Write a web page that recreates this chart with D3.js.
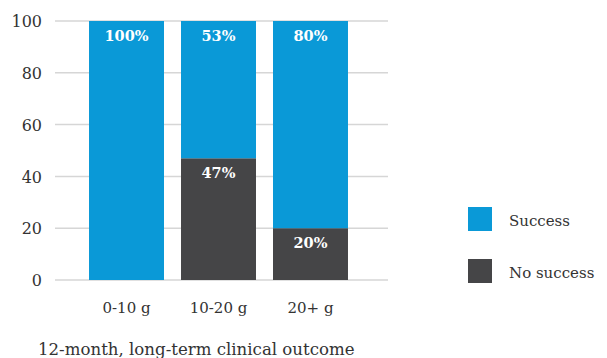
<!DOCTYPE html>
<html>
<head>
<meta charset="utf-8">
<script src="https://cdn.jsdelivr.net/npm/d3@7"></script>
<style>
  html, body { margin: 0; padding: 0; background: #fff; }
  svg { display: block; }
  text { font-family: "DejaVu Serif", "Liberation Serif", serif; }
</style>
</head>
<body>
<svg id="chart" width="607" height="358"></svg>
<script>
// Outcome by dose group: share of patients with success vs. no success (%)
const categories = ["0-10 g", "10-20 g", "20+ g"];
const success = [100, 53, 80];
const noSuccess = [0, 47, 20];
const seriesNames = ["Success", "No success"];
const yTicks = [0, 20, 40, 60, 80, 100];
const caption = "12-month, long-term clinical outcome";

const colors = { "Success": "#0a99d7", "No success": "#454547" };

const svg = d3.select("#chart");

const x = d3.scaleBand().domain(categories).range([72, 365]).paddingInner(0.185).paddingOuter(0.185);
const y = d3.scaleLinear().domain([0, 100]).range([280, 21]);

// Gridlines and y tick labels
const grid = svg.append("g");
grid.selectAll("line").data(yTicks).join("line")
  .attr("x1", 55).attr("x2", 388)
  .attr("y1", d => y(d)).attr("y2", d => y(d))
  .attr("stroke", "#d6d6d6").attr("stroke-width", 1.5);

const yAxis = d3.axisLeft(y).tickValues(yTicks).tickSize(0).tickPadding(0);
const yg = svg.append("g").attr("transform", "translate(42,0)").call(yAxis);
yg.select(".domain").remove();
yg.selectAll("text").attr("font-size", 16).attr("fill", "#333").attr("dy", "0.35em")
  .style("font-family", "'DejaVu Serif', serif");

// Stacked bars
const rows = categories.map((c, i) => ({ cat: c, "No success": noSuccess[i], "Success": success[i] }));
const stack = d3.stack().keys(["No success", "Success"])(rows);

const layers = svg.append("g").selectAll("g").data(stack).join("g")
  .attr("fill", d => colors[d.key]);
layers.selectAll("rect").data(d => d.filter(s => s[1] - s[0] > 0)).join("rect")
  .attr("x", d => x(d.data.cat))
  .attr("width", x.bandwidth())
  .attr("y", d => y(d[1]))
  .attr("height", d => y(d[0]) - y(d[1]));

// Value labels at the top of each segment
const labels = svg.append("g");
stack.forEach(layer => {
  layer.forEach(s => {
    const v = s[1] - s[0];
    if (v <= 0) return;
    labels.append("text")
      .attr("x", x(s.data.cat) + x.bandwidth() / 2)
      .attr("y", y(s[1]) + 20)
      .attr("text-anchor", "middle")
      .attr("font-size", 14.5)
      .attr("font-weight", "bold")
      .attr("fill", "#fff")
      .text(v + "%");
  });
});

// Category axis
const xAxis = d3.axisBottom(x).tickSize(0).tickPadding(0);
const xg = svg.append("g").attr("transform", "translate(0,313)").call(xAxis);
xg.select(".domain").remove();
xg.selectAll("text").attr("font-size", 15).attr("fill", "#333").attr("dy", 0)
  .style("font-family", "'DejaVu Serif', serif");

// Legend
const legend = svg.append("g").attr("transform", "translate(468,207)");
seriesNames.forEach((name, i) => {
  const g = legend.append("g").attr("transform", `translate(0,${i * 52})`);
  g.append("rect").attr("width", 24).attr("height", 24).attr("fill", colors[name]);
  g.append("text").attr("x", 41).attr("y", 19)
    .attr("font-size", 15).attr("fill", "#333").text(name);
});

// Caption
svg.append("text").attr("x", 38).attr("y", 355)
  .attr("font-size", 16.6).attr("fill", "#333").text(caption);
</script>
</body>
</html>
